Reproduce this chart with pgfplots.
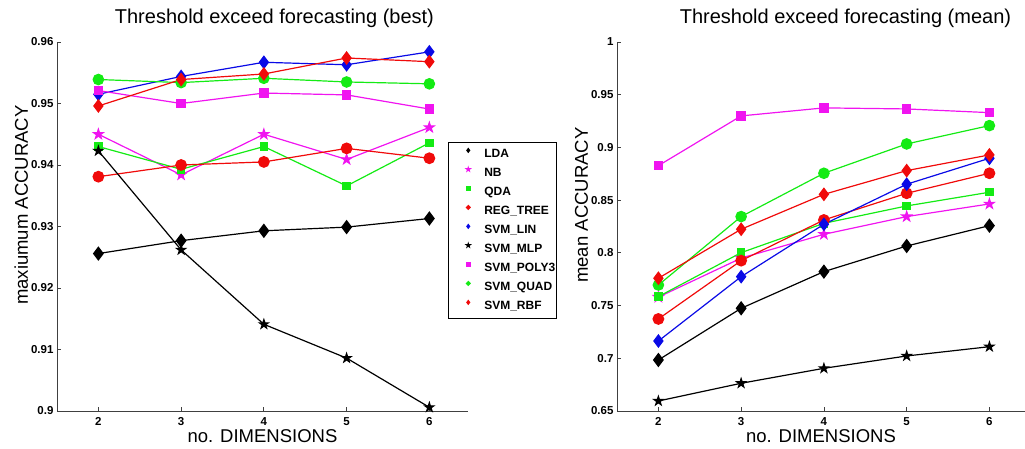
\documentclass[border=0pt]{standalone}
\usepackage{fontspec}
\setmainfont{Liberation Sans}
\usepackage{pgfplots}
\pgfplotsset{compat=1.18}

% filled five-pointed star, like matlab's 'p'
\pgfdeclareplotmark{pent}{%
  \pgfpathmoveto{\pgfpointpolar{90}{\pgfplotmarksize}}%
  \pgfpathlineto{\pgfpointpolar{126}{0.382\pgfplotmarksize}}%
  \pgfpathlineto{\pgfpointpolar{162}{\pgfplotmarksize}}%
  \pgfpathlineto{\pgfpointpolar{198}{0.382\pgfplotmarksize}}%
  \pgfpathlineto{\pgfpointpolar{234}{\pgfplotmarksize}}%
  \pgfpathlineto{\pgfpointpolar{270}{0.382\pgfplotmarksize}}%
  \pgfpathlineto{\pgfpointpolar{306}{\pgfplotmarksize}}%
  \pgfpathlineto{\pgfpointpolar{342}{0.382\pgfplotmarksize}}%
  \pgfpathlineto{\pgfpointpolar{18}{\pgfplotmarksize}}%
  \pgfpathlineto{\pgfpointpolar{54}{0.382\pgfplotmarksize}}%
  \pgfpathclose
  \pgfusepathqfillstroke}

\definecolor{mgreen}{RGB}{20,235,20}
\definecolor{mmag}{RGB}{240,20,240}
\definecolor{mred}{RGB}{240,10,10}
\definecolor{mblue}{RGB}{10,10,230}

\pgfplotsset{
  mat/.style={
    scale only axis,
    axis x line*=bottom, axis y line*=left,
    axis line style={line width=0.9pt, black!75},
    tick style={line width=0.8pt, black!75},
    tick align=inside, major tick length=4pt,
    xmin=1.5, xtick={2,3,4,5,6}, xticklabels={2,3,4,5,6},
    ticklabel style={font=\bfseries\fontsize{11.5}{12}\selectfont},
    xticklabel style={yshift=-3pt},
    title style={font=\fontsize{20}{22}\selectfont, anchor=base, yshift=12pt},
    every axis x label/.style={at={(rel axis cs:0.5,0)}, anchor=base, yshift=-32pt,
      font=\fontsize{18.5}{20}\selectfont},
    every axis y label/.style={rotate=90, anchor=base,
      font=\fontsize{18.5}{20}\selectfont},
    every axis plot/.append style={line width=1.2pt, mark options={solid, line width=0.5pt}},
  },
  lda/.style={black, mark=diamond*, mark size=6.3pt, mark options={fill=black}},
  nb/.style={mmag, mark=pent, mark size=5pt, mark options={fill=mmag}},
  qda/.style={mgreen, mark=square*, mark size=3.6pt, mark options={fill=mgreen}},
  regtree/.style={mred, mark=*, mark size=5.3pt, mark options={fill=mred}},
  svmlin/.style={mblue, mark=diamond*, mark size=6pt, mark options={fill=mblue}},
  svmmlp/.style={black, mark=pent, mark size=4.6pt, mark options={fill=black}},
  svmpoly/.style={mmag, mark=square*, mark size=4.2pt, mark options={fill=mmag}},
  svmquad/.style={mgreen, mark=*, mark size=5.2pt, mark options={fill=mgreen}},
  svmrbf/.style={mred, mark=diamond*, mark size=6pt, mark options={fill=mred}},
}

\begin{document}
\begin{tikzpicture}
% ---- left: best
\begin{axis}[mat,
  at={(57pt,38pt)}, anchor=south west,
  width=411pt, height=369pt,
  xmax=6.467, ymin=0.9, ymax=0.96,
  ytick={0.9,0.91,0.92,0.93,0.94,0.95,0.96},
  yticklabels={0.9,0.91,0.92,0.93,0.94,0.95,0.96},
  title={Threshold exceed forecasting (best)},
  title style={at={(0.529,1)}},
  xlabel={no. DIMENSIONS},
  ylabel={maxiumum ACCURACY},
  ylabel style={at={(rel axis cs:-0.0706,0.558)}},
  clip=false,
  legend cell align=left,
  legend image code/.code={%
    \path[draw=none,fill=none] (0pt,4pt) (35pt,4pt);
    \draw[#1, mark size=1.8pt] plot coordinates {(19pt,4pt)};},
  legend style={at={(0.951,0.729)}, anchor=north west,
    draw=black, line width=0.8pt, fill=white,
    inner xsep=1pt, inner ysep=6pt, row sep=7pt,
    font=\bfseries\fontsize{12}{12}\selectfont,
    nodes={inner sep=0pt, text height=9pt, text depth=3pt}},
]
\addplot[lda] coordinates {(2,0.9256) (3,0.9277) (4,0.9293) (5,0.9299) (6,0.9313)};
\addlegendentry{LDA}
\addplot[nb] coordinates {(2,0.9450) (3,0.9384) (4,0.9450) (5,0.9409) (6,0.9461)};
\addlegendentry{NB}
\addplot[qda] coordinates {(2,0.9430) (3,0.9393) (4,0.9430) (5,0.9366) (6,0.9436)};
\addlegendentry{QDA}
\addplot[regtree] coordinates {(2,0.9381) (3,0.9400) (4,0.9405) (5,0.9427) (6,0.9411)};
\addlegendentry{REG\_TREE}
\addplot[svmlin] coordinates {(2,0.9515) (3,0.9544) (4,0.9567) (5,0.9563) (6,0.9584)};
\addlegendentry{SVM\_LIN}
\addplot[svmmlp] coordinates {(2,0.9423) (3,0.9262) (4,0.9141) (5,0.9086) (6,0.9006)};
\addlegendentry{SVM\_MLP}
\addplot[svmpoly] coordinates {(2,0.9521) (3,0.9500) (4,0.9517) (5,0.9514) (6,0.9491)};
\addlegendentry{SVM\_POLY3}
\addplot[svmquad] coordinates {(2,0.9539) (3,0.9534) (4,0.9541) (5,0.9535) (6,0.9532)};
\addlegendentry{SVM\_QUAD}
\addplot[svmrbf] coordinates {(2,0.9496) (3,0.9539) (4,0.9548) (5,0.9574) (6,0.9568)};
\addlegendentry{SVM\_RBF}
\end{axis}

% ---- right: mean
\begin{axis}[mat,
  at={(617pt,38pt)}, anchor=south west,
  width=408pt, height=369pt,
  xmax=6.43, ymin=0.65, ymax=1,
  ytick={0.65,0.7,0.75,0.8,0.85,0.9,0.95,1},
  yticklabels={0.65,0.7,0.75,0.8,0.85,0.9,0.95,1},
  title={Threshold exceed forecasting (mean)},
  title style={at={(0.56,1)}},
  xlabel={no. DIMENSIONS},
  ylabel={mean ACCURACY},
  ylabel style={at={(rel axis cs:-0.0711,0.558)}},
  clip=false,
]
\addplot[lda] coordinates {(2,0.6984) (3,0.7474) (4,0.7822) (5,0.8065) (6,0.8258)};
\addplot[nb] coordinates {(2,0.7580) (3,0.7950) (4,0.8176) (5,0.8344) (6,0.8464)};
\addplot[qda] coordinates {(2,0.7585) (3,0.8002) (4,0.8280) (5,0.8445) (6,0.8575)};
\addplot[regtree] coordinates {(2,0.7373) (3,0.7926) (4,0.8312) (5,0.8565) (6,0.8755)};
\addplot[svmlin] coordinates {(2,0.7164) (3,0.7774) (4,0.8271) (5,0.8651) (6,0.8897)};
\addplot[svmmlp] coordinates {(2,0.6595) (3,0.6763) (4,0.6905) (5,0.7022) (6,0.7110)};
\addplot[svmpoly] coordinates {(2,0.8827) (3,0.9299) (4,0.9375) (5,0.9365) (6,0.9330)};
\addplot[svmquad] coordinates {(2,0.7695) (3,0.8344) (4,0.8755) (5,0.9033) (6,0.9207)};
\addplot[svmrbf] coordinates {(2,0.7759) (3,0.8224) (4,0.8555) (5,0.8780) (6,0.8929)};
\end{axis}

\pgfresetboundingbox
\useasboundingbox (0,0) rectangle (1025pt,449pt);
\end{tikzpicture}
\end{document}
